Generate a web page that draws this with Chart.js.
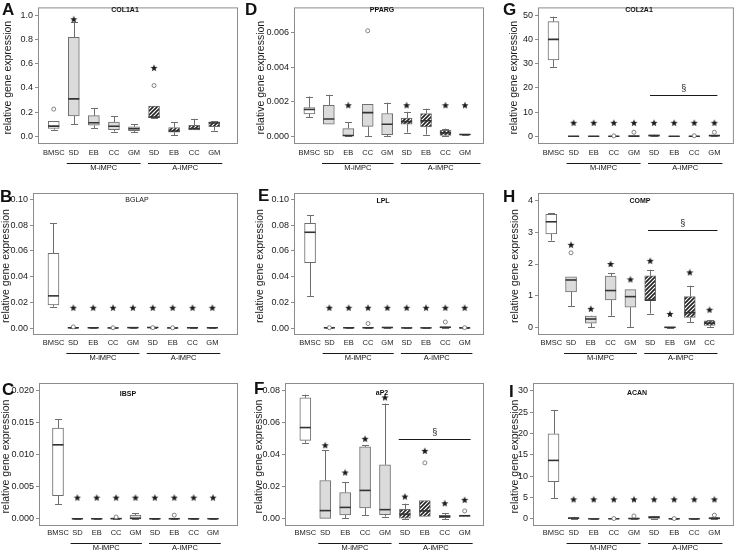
<!DOCTYPE html>
<html>
<head>
<meta charset="utf-8">
<script src="https://cdn.jsdelivr.net/npm/chart.js@4.4.1/dist/chart.umd.min.js"></script>
<style>
html, body { margin: 0; background: #fff; }
#wrap { position: relative; width: 741px; height: 550px; overflow: hidden; }
#wrap canvas { position: absolute; left: 0; top: 0; }
</style>
</head>
<body>
<div id="wrap"></div>
<script>
// categories (H uses a different order for the A-iMPC group)
const categories = ['BMSC', 'SD', 'EB', 'CC', 'GM', 'SD', 'EB', 'CC', 'GM'];
const categoriesComp = ['BMSC', 'SD', 'EB', 'CC', 'GM', 'SD', 'EB', 'GM', 'CC'];
const groupNames = ['M-iMPC', 'A-iMPC'];

// each row: [min, q1, median, q3, max]
const col1a1Boxes = [
    [0.055, 0.066, 0.085, 0.125, 0.125],
    [0.100, 0.170, 0.310, 0.818, 0.947],
    [0.069, 0.092, 0.113, 0.171, 0.231],
    [0.040, 0.055, 0.084, 0.118, 0.166],
    [0.034, 0.047, 0.063, 0.079, 0.100],
    [0.150, 0.155, 0.160, 0.250, 0.250],
    [0.008, 0.034, 0.045, 0.073, 0.118],
    [0.053, 0.053, 0.065, 0.092, 0.145],
    [0.047, 0.081, 0.110, 0.121, 0.126]
];
const col1a1Outliers = [[0, 0.225], [5, 0.42]];
const col1a1Stars = [[1, 0.968], [5, 0.566]];
const col1a1Ticks = ['0.0', '0.2', '0.4', '0.6', '0.8', '1.0'];

const ppargBoxes = [
    [0.0011, 0.0013, 0.00155, 0.00166, 0.0023],
    [0.0007, 0.0007, 0.0010, 0.0018, 0.0024],
    [0.00002, 0.00003, 0.00005, 0.00045, 0.00082],
    [0.0000, 0.00058, 0.00137, 0.00185, 0.00185],
    [0.00002, 0.0001, 0.0007, 0.00132, 0.00195],
    [0.00022, 0.0007, 0.00085, 0.00105, 0.00142],
    [0.0001, 0.00055, 0.0009, 0.00132, 0.0016],
    [0.0000, 0.00005, 0.0002, 0.00035, 0.00045],
    [0.00008, 0.00009, 0.00011, 0.00013, 0.00013]
];
const ppargOutliers = [[3, 0.0061]];
const ppargStars = [[2, 0.0018], [5, 0.0018], [7, 0.0018], [8, 0.0018]];
const ppargTicks = ['0.000', '0.002', '0.004', '0.006'];

const col2a1Boxes = [
    [28.7, 31.6, 40.1, 47.4, 49.5],
    [0, 0.02, 0.05, 0.1, 0.15],
    [0, 0.02, 0.05, 0.08, 0.1],
    [0, 0.02, 0.05, 0.1, 0.2],
    [0, 0.05, 0.1, 0.2, 0.3],
    [0.05, 0.15, 0.3, 0.6, 0.7],
    [0, 0.02, 0.04, 0.06, 0.08],
    [0, 0.02, 0.05, 0.08, 0.15],
    [0.05, 0.15, 0.3, 0.45, 0.55]
];
const col2a1Outliers = [[3, 0.2], [4, 1.7], [7, 0.25], [8, 1.7]];
const col2a1Stars = [[1, 5.6], [2, 5.6], [3, 5.6], [4, 5.6], [5, 5.6], [6, 5.6], [7, 5.6], [8, 5.6]];
const col2a1Ticks = ['0', '10', '20', '30', '40', '50'];
const col2a1Section = [17.1, 4.8, 8.15];

const bglapBoxes = [
    [0.0165, 0.018, 0.025, 0.058, 0.0815],
    [0, 0.0001, 0.0002, 0.0003, 0.0004],
    [0, 0.0001, 0.0002, 0.0003, 0.0003],
    [0, 0.0001, 0.0001, 0.0002, 0.0003],
    [0, 0.0001, 0.0003, 0.0005, 0.0006],
    [0, 0.0002, 0.0004, 0.0006, 0.0007],
    [0, 0.0001, 0.0001, 0.0002, 0.0003],
    [0, 0.0001, 0.0002, 0.0003, 0.0003],
    [0, 0.0001, 0.0002, 0.0003, 0.0003]
];
const bglapOutliers = [[1, 0.0009], [3, 0.0002], [5, 0.0003], [6, 0.0002]];
const bglapStars = [[1, 0.0158], [2, 0.0158], [3, 0.0158], [4, 0.0158], [5, 0.0158], [6, 0.0158], [7, 0.0158], [8, 0.0158]];
const bglapTicks = ['0.00', '0.02', '0.04', '0.06', '0.08', '0.10'];

const lplBoxes = [
    [0.025, 0.0508, 0.0744, 0.0814, 0.0878],
    [0, 0.0001, 0.0002, 0.0003, 0.0004],
    [0, 0.0001, 0.0002, 0.0004, 0.0005],
    [0, 0.0001, 0.0002, 0.0004, 0.0006],
    [0, 0.0002, 0.0004, 0.0008, 0.0009],
    [0, 0, 0.0001, 0.0002, 0.0003],
    [0, 0, 0.0001, 0.0002, 0.0003],
    [0, 0.0002, 0.0006, 0.0009, 0.001],
    [0, 0, 0.0001, 0.0002, 0.0003]
];
const lplOutliers = [[1, 0.0003], [3, 0.0035], [7, 0.0047], [8, 0.0003]];
const lplStars = [[1, 0.0158], [2, 0.0158], [3, 0.0158], [4, 0.0158], [5, 0.0158], [6, 0.0158], [7, 0.0158], [8, 0.0158]];
const lplTicks = ['0.00', '0.02', '0.04', '0.06', '0.08', '0.10'];

const compBoxes = [
    [2.73, 2.94, 3.32, 3.55, 3.58],
    [0.68, 1.13, 1.50, 1.60, 1.60],
    [0.02, 0.15, 0.28, 0.37, 0.38],
    [0.38, 0.88, 1.17, 1.62, 1.72],
    [0.03, 0.65, 0.98, 1.20, 1.20],
    [0.45, 0.87, 0.87, 1.63, 1.82],
    [0.00, 0.01, 0.02, 0.03, 0.03],
    [0.18, 0.33, 0.48, 0.98, 1.32],
    [0.03, 0.08, 0.15, 0.22, 0.25]
];
const compOutliers = [[1, 2.35]];
const compStars = [[1, 2.6], [2, 0.6], [3, 2.0], [4, 1.52], [5, 2.1], [6, 0.44], [7, 1.74], [8, 0.57]];
const compTicks = ['0', '1', '2', '3', '4'];
const compSection = [3.06, 4.89, 8.4];

const ibspBoxes = [
    [0.0023, 0.00364, 0.01156, 0.01417, 0.01557],
    [0, 0, 0.00002, 0.00004, 0.00005],
    [0, 0, 0.00002, 0.00004, 0.00005],
    [0, 0.00002, 0.00005, 0.0001, 0.00012],
    [0, 0.00005, 0.0001, 0.0006, 0.0009],
    [0, 0, 0.00002, 0.00004, 0.00005],
    [0, 0.00001, 0.00003, 0.00006, 0.00008],
    [0, 0, 0.00002, 0.00004, 0.00005],
    [0, 0, 0.00002, 0.00004, 0.00005]
];
const ibspOutliers = [[3, 0.0003], [6, 0.0006]];
const ibspStars = [[1, 0.00333], [2, 0.00333], [3, 0.00333], [4, 0.00333], [5, 0.00333], [6, 0.00333], [7, 0.00333], [8, 0.00333]];
const ibspTicks = ['0.000', '0.005', '0.010', '0.015', '0.020'];

const ap2Boxes = [
    [0.0475, 0.049, 0.057, 0.0755, 0.0775],
    [0.0004, 0.0004, 0.0052, 0.024, 0.043],
    [0.0005, 0.0025, 0.0072, 0.0165, 0.023],
    [0.0025, 0.0068, 0.0178, 0.045, 0.046],
    [0.0015, 0.0027, 0.0058, 0.0338, 0.072],
    [0.0000, 0.0005, 0.003, 0.006, 0.0095],
    [0.0015, 0.0015, 0.005, 0.0115, 0.0115],
    [0.0000, 0.0008, 0.0015, 0.0022, 0.0035],
    [0.0015, 0.0015, 0.002, 0.002, 0.002]
];
const ap2Outliers = [[6, 0.035], [8, 0.005]];
const ap2Stars = [[1, 0.046], [2, 0.029], [3, 0.05], [4, 0.0758], [5, 0.014], [6, 0.0425], [7, 0.0098], [8, 0.0119]];
const ap2Ticks = ['0.00', '0.02', '0.04', '0.06', '0.08'];
const ap2Section = [0.05, 4.69, 8.3];

const acanBoxes = [
    [4.85, 8.75, 13.7, 19.9, 25.5],
    [0, 0.05, 0.2, 0.35, 0.5],
    [0, 0, 0.03, 0.06, 0.08],
    [0, 0, 0.05, 0.1, 0.15],
    [0, 0.02, 0.1, 0.2, 0.3],
    [0.1, 0.15, 0.4, 0.65, 0.75],
    [0, 0.02, 0.05, 0.1, 0.15],
    [0, 0, 0.03, 0.06, 0.08],
    [0, 0.05, 0.15, 0.3, 0.4]
];
const acanOutliers = [[3, 0.1], [4, 0.7], [6, 0.1], [8, 0.9]];
const acanStars = [[1, 4.6], [2, 4.6], [3, 4.6], [4, 4.6], [5, 4.6], [6, 4.6], [7, 4.6], [8, 4.6]];
const acanTicks = ['0', '5', '10', '15', '20', '25', '30'];

const FONT = '"Liberation Sans", Arial, sans-serif';
const W = 741, H = 550;
const Y_AXIS_W = 30, X_AXIS_H = 12;

// layout of the nine panels (absolute page pixels)
const panels = [
    { letter: 'A', gene: 'COL1A1', cats: categories, boxes: col1a1Boxes, outliers: col1a1Outliers, stars: col1a1Stars, ticks: col1a1Ticks,
      frame: [38, 1, 238, 144], xr: [-0.785, 9.185], yr: [-0.063, 1.0655], title: [125, 10, true], letterPos: [2, 15], ylabX: 8, labelPad: 4, groupDy: 19 },
    { letter: 'D', gene: 'PPARG', cats: categories, boxes: ppargBoxes, outliers: ppargOutliers, stars: ppargStars, ticks: ppargTicks,
      frame: [294, 1, 484, 144], xr: [-0.79, 8.98], yr: [-0.00044, 0.00745], title: [382, 10, true], letterPos: [245, 15], ylabX: 261, labelPad: 4, groupDy: 19, groupB: [4.7, 8.8] },
    { letter: 'G', gene: 'COL2A1', cats: categories, boxes: col2a1Boxes, outliers: col2a1Outliers, stars: col2a1Stars, ticks: col2a1Ticks, section: col2a1Section,
      frame: [538, 1, 739, 144], xr: [-0.77, 8.97], yr: [-3.16, 53.3], title: [639, 10, true], letterPos: [503, 15], ylabX: 514, labelPad: 4, groupDy: 19 },
    { letter: 'B', gene: 'BGLAP', cats: categories, boxes: bglapBoxes, outliers: bglapOutliers, stars: bglapStars, ticks: bglapTicks,
      frame: [33, 193, 238, 335], xr: [-1.03, 9.29], yr: [-0.0054, 0.1049], title: [137, 200, false], letterPos: [0, 202], ylabX: 6, labelPad: 3, groupDy: 17.5 },
    { letter: 'E', gene: 'LPL', cats: categories, boxes: lplBoxes, outliers: lplOutliers, stars: lplStars, ticks: lplTicks,
      frame: [294, 193, 484, 335], xr: [-0.83, 9.0], yr: [-0.0054, 0.1049], title: [383, 201, true], letterPos: [258, 201], ylabX: 260, labelPad: 3, groupDy: 17.5 },
    { letter: 'H', gene: 'COMP', cats: categoriesComp, boxes: compBoxes, outliers: compOutliers, stars: compStars, ticks: compTicks, section: compSection,
      frame: [538, 193, 739, 335], xr: [-0.67, 9.23], yr: [-0.22, 4.22], title: [640, 201, true], letterPos: [503, 202], ylabX: 515, labelPad: 3, groupDy: 17.5 },
    { letter: 'C', gene: 'IBSP', cats: categories, boxes: ibspBoxes, outliers: ibspOutliers, stars: ibspStars, ticks: ibspTicks,
      frame: [39, 383, 238, 526], xr: [-0.98, 9.29], yr: [-0.0011, 0.0212], title: [128, 394, true], letterPos: [2, 395], ylabX: 6, labelPad: 2, groupDy: 17 },
    { letter: 'F', gene: 'aP2', cats: categories, boxes: ap2Boxes, outliers: ap2Outliers, stars: ap2Stars, ticks: ap2Ticks, section: ap2Section,
      frame: [285, 383, 484, 526], xr: [-1.02, 8.97], yr: [-0.0044, 0.0848], title: [382, 393, true], letterPos: [254, 394], ylabX: 259, labelPad: 2, groupDy: 17 },
    { letter: 'I', gene: 'ACAN', cats: categories, boxes: acanBoxes, outliers: acanOutliers, stars: acanStars, ticks: acanTicks,
      frame: [533, 383, 739, 526], xr: [-1.02, 8.97], yr: [-1.64, 31.8], title: [637, 393, true], letterPos: [509, 397], ylabX: 515, labelPad: 2, groupDy: 17 }
];

function makeStar() {
    const c = document.createElement('canvas');
    c.width = 8; c.height = 8;
    const g = c.getContext('2d');
    g.fillStyle = '#1a1a1a';
    g.beginPath();
    for (let k = 0; k < 10; k++) {
        const r = k % 2 ? 1.6 : 3.8;
        const a = -Math.PI / 2 + k * Math.PI / 5;
        g.lineTo(4 + r * Math.cos(a), 4.3 + r * Math.sin(a));
    }
    g.closePath();
    g.fill();
    return c;
}

function makeHatchTile() {
    const c = document.createElement('canvas');
    c.width = 4; c.height = 4;
    const g = c.getContext('2d');
    g.fillStyle = '#fff';
    g.fillRect(0, 0, 4, 4);
    g.strokeStyle = '#222';
    g.lineWidth = 1.6;
    g.beginPath();
    g.moveTo(-1, 5); g.lineTo(5, -1);
    g.moveTo(-1, 1); g.lineTo(1, -1);
    g.moveTo(3, 5); g.lineTo(5, 3);
    g.stroke();
    return c;
}

const starImg = makeStar();
const hatchTile = makeHatchTile();

// whiskers under the boxes, frame and annotations on top
function panelPlugin(p) {
    return {
        id: 'panel' + p.letter,
        beforeDatasetsDraw(chart) {
            const { ctx, scales: { x, y } } = chart;
            ctx.save();
            ctx.strokeStyle = '#6e6e6e';
            ctx.lineWidth = 1;
            p.boxes.forEach((s, i) => {
                const cx = Math.round(x.getPixelForValue(i)) + 0.5;
                const seg = (a, b) => {
                    if (b - a <= 0) return;
                    const ya = y.getPixelForValue(a), yb = y.getPixelForValue(b);
                    ctx.beginPath();
                    ctx.moveTo(cx, ya); ctx.lineTo(cx, yb);
                    ctx.stroke();
                };
                const cap = v => {
                    const yy = Math.round(y.getPixelForValue(v)) + 0.5;
                    ctx.beginPath();
                    ctx.moveTo(cx - 3.5, yy); ctx.lineTo(cx + 3.5, yy);
                    ctx.stroke();
                };
                seg(s[3], s[4]);
                seg(s[0], s[1]);
                if (s[4] > s[3]) cap(s[4]);
                if (s[0] < s[1]) cap(s[0]);
            });
            ctx.restore();
        },
        afterDraw(chart) {
            const { ctx, chartArea: ca, scales: { x, y } } = chart;
            ctx.save();
            // frame
            ctx.strokeStyle = '#8c8c8c';
            ctx.lineWidth = 1;
            ctx.strokeRect(ca.left + 0.5, ca.top + 0.5, ca.right - ca.left - 1, ca.bottom - ca.top - 1);

            ctx.fillStyle = '#111';
            ctx.textAlign = 'center';
            ctx.textBaseline = 'middle';
            ctx.font = (p.title[2] ? 'bold ' : '') + '7px ' + FONT;
            ctx.fillText(p.gene, p.title[0], p.title[1]);

            ctx.textAlign = 'left';
            ctx.textBaseline = 'alphabetic';
            ctx.font = 'bold 17px ' + FONT;
            ctx.fillText(p.letter, p.letterPos[0], p.letterPos[1]);

            ctx.save();
            ctx.translate(p.ylabX, (ca.top + ca.bottom) / 2 + 2);
            ctx.rotate(-Math.PI / 2);
            ctx.textAlign = 'center';
            ctx.textBaseline = 'middle';
            ctx.font = '10.5px ' + FONT;
            ctx.fillStyle = '#1a1a1a';
            ctx.fillText('relative gene expression', 0, 0);
            ctx.restore();

            // group underlines
            const spans = [[0.65, 4.33], p.groupB || [4.7, 8.4]];
            const gy = Math.round(ca.bottom + p.groupDy) + 0.5;
            ctx.strokeStyle = '#1a1a1a';
            ctx.font = '7.5px ' + FONT;
            ctx.textAlign = 'center';
            ctx.textBaseline = 'middle';
            spans.forEach((sp, k) => {
                const x0 = x.getPixelForValue(sp[0]), x1 = x.getPixelForValue(sp[1]);
                ctx.beginPath();
                ctx.moveTo(x0, gy); ctx.lineTo(x1, gy);
                ctx.stroke();
                ctx.fillText(groupNames[k], (x0 + x1) / 2, gy + 4.5);
            });

            if (p.section) {
                const [sv, a, b] = p.section;
                const sy = Math.round(y.getPixelForValue(sv)) + 0.5;
                const x0 = x.getPixelForValue(a), x1 = x.getPixelForValue(b);
                ctx.beginPath();
                ctx.moveTo(x0, sy); ctx.lineTo(x1, sy);
                ctx.stroke();
                ctx.font = '9px ' + FONT;
                ctx.fillText('§', (x0 + x1) / 2, sy - 7);
            }
            ctx.restore();
        }
    };
}

const wrap = document.getElementById('wrap');

panels.forEach(p => {
    const canvas = document.createElement('canvas');
    canvas.width = W; canvas.height = H;
    canvas.style.width = W + 'px'; canvas.style.height = H + 'px';
    wrap.appendChild(canvas);
    const hatch = canvas.getContext('2d').createPattern(hatchTile, 'repeat');
    const [l, t, r, b] = p.frame;

    new Chart(canvas, {
        type: 'bar',
        data: {
            datasets: [
                {
                    type: 'bar',
                    data: p.boxes.map((s, i) => ({ x: i, y: [s[1], s[3]] })),
                    backgroundColor: p.boxes.map((s, i) => i === 0 ? '#ffffff' : (i < 5 ? '#dbdbdb' : hatch)),
                    borderColor: '#6e6e6e',
                    borderWidth: 1,
                    borderSkipped: false,
                    barThickness: 11,
                    order: 3
                },
                {
                    type: 'scatter',
                    data: p.boxes.map((s, i) => ({ x: i, y: s[2] })),
                    pointStyle: 'line',
                    radius: 5.5,
                    borderColor: '#333',
                    borderWidth: 1.6,
                    order: 1
                },
                {
                    type: 'scatter',
                    data: p.outliers.map(o => ({ x: o[0], y: o[1] })),
                    pointStyle: 'circle',
                    radius: 2,
                    backgroundColor: '#fff',
                    borderColor: '#666',
                    borderWidth: 0.8,
                    order: 0
                },
                {
                    type: 'scatter',
                    data: p.stars.map(o => ({ x: o[0], y: o[1] })),
                    pointStyle: starImg,
                    order: 0
                }
            ]
        },
        options: {
            responsive: false,
            animation: false,
            events: [],
            layout: { padding: { left: l - Y_AXIS_W, top: t, right: W - r, bottom: H - b - X_AXIS_H } },
            plugins: { legend: { display: false }, tooltip: { enabled: false } },
            scales: {
                x: {
                    type: 'linear',
                    min: p.xr[0],
                    max: p.xr[1],
                    offset: false,
                    grid: { display: false, drawTicks: false },
                    border: { display: false },
                    afterBuildTicks: s => { s.ticks = p.cats.map((c, i) => ({ value: i })); },
                    afterFit: s => { s.height = X_AXIS_H; },
                    ticks: {
                        autoSkip: false,
                        maxRotation: 0,
                        padding: p.labelPad,
                        color: '#1a1a1a',
                        font: { family: FONT, size: 7.5 },
                        callback: v => p.cats[v]
                    }
                },
                y: {
                    min: p.yr[0],
                    max: p.yr[1],
                    grid: { drawOnChartArea: false, drawTicks: true, tickLength: 3, color: '#8c8c8c' },
                    border: { display: false },
                    afterBuildTicks: s => { s.ticks = p.ticks.map(v => ({ value: parseFloat(v) })); },
                    afterFit: s => { s.width = Y_AXIS_W; },
                    ticks: {
                        padding: 2,
                        color: '#1a1a1a',
                        font: { family: FONT, size: 9 },
                        callback: (v, i) => p.ticks[i]
                    }
                }
            }
        },
        plugins: [panelPlugin(p)]
    });
});
</script>
</body>
</html>
